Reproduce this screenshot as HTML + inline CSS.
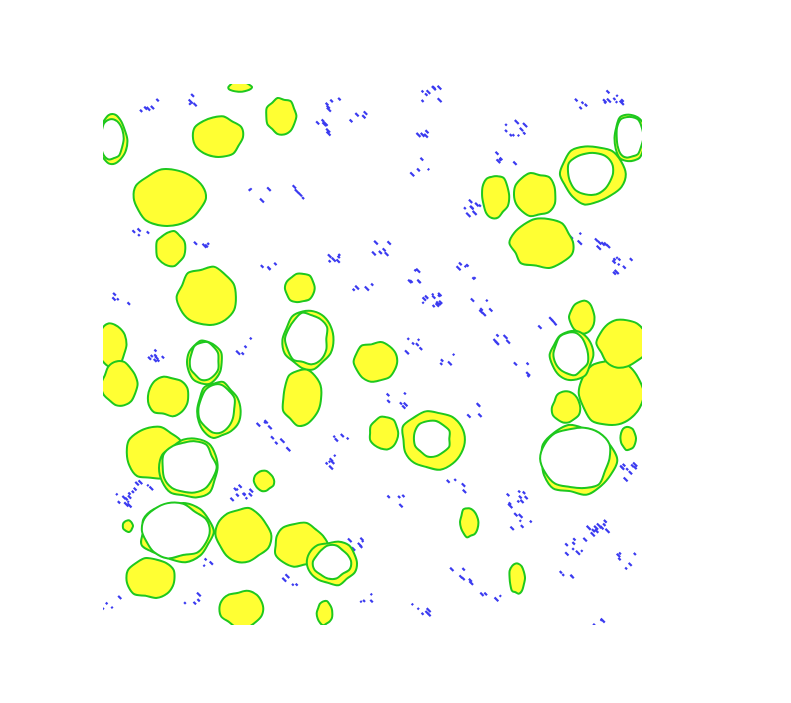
<!DOCTYPE html>
<html><head><meta charset="utf-8">
<style>html,body{margin:0;padding:0;background:#fff;width:791px;height:703px;overflow:hidden}</style>
</head><body>
<svg id="seg" width="791" height="703" viewBox="0 0 791 703" xmlns="http://www.w3.org/2000/svg">
<defs><clipPath id="clip"><rect x="103" y="84" width="539" height="541"/></clipPath></defs>
<g id="layer" clip-path="url(#clip)"></g>
</svg>
<script>
// Solid yellow regions: [cx, cy, rx, ry]
const solidBlobs = [
[218,137,25,22],[281,116,15,18],[170,198,37,28],[171,249,15,18],[207,297,30,30],
[300,288,15,15],[302,398,20,28],[376,362,22,20],[384,433,15,16],[495,196,14,22],
[535,195,22,22],[542,243,32,25],[112,345,14,22],[120,384,18,22],[168,396,22,20],
[155,453,28,28],[243,535,27,28],[300,545,27,22],[151,578,26,20],[242,609,23,18],
[264,481,10,10],[325,613,8,12],[469,522,9,15],[517,578,8,16],[582,317,13,17],
[612,393,32,35],[622,343,25,25],[566,408,14,16],[628,438,8,12],[128,526,5,6],[240,87,12,5]
];
// Ring regions: [cx, cy, rx, ry, innerScale]
const ringBlobs = [
[308,340,25,30,0.85],[592,174,33,30,0.72],[630,138,16,25,0.85],[205,362,18,22,0.85],
[218,410,22,28,0.85],[190,468,30,30,0.9],[177,532,38,30,0.9],[333,563,25,22,0.75],
[433,440,32,30,0.6],[578,460,38,35,0.92],[572,355,22,26,0.82],[112,140,15,25,0.8]
];
// Blue speckle cluster centres: [x, y, count]
const speckles = [
[150,103,5],[185,100,4],[325,125,7],[330,105,5],[355,113,4],[430,92,8],[515,128,9],[612,95,9],
[577,103,4],[470,205,8],[505,155,5],[258,195,4],[300,190,4],[620,265,9],[598,240,6],[570,235,4],
[380,245,6],[330,262,6],[430,300,12],[410,275,6],[465,270,6],[480,305,6],[415,345,6],[450,355,4],
[500,335,6],[545,320,4],[520,370,4],[153,355,8],[120,300,4],[140,235,4],[200,240,4],[240,345,4],
[325,458,6],[240,492,10],[125,497,10],[143,480,6],[515,497,9],[520,520,6],[455,487,4],[395,500,4],
[596,525,11],[575,545,8],[630,470,9],[625,560,6],[562,572,4],[355,540,6],[370,600,4],[420,610,6],
[460,575,6],[490,600,4],[190,600,4],[110,600,4],[280,440,4],[340,440,4],[470,410,4],[395,400,6],
[260,420,4],[288,580,4],[200,560,4],[362,290,4],[270,260,4],[420,165,4],[420,130,4],[600,620,4]
];
const layer = document.getElementById('layer');
const NS = 'http://www.w3.org/2000/svg';
let seed = 7;
function rnd(){ seed = (seed*16807)%2147483647; return seed/2147483647; }
function blobPath(cx,cy,rx,ry){
  const n=14; let pts=[];
  for(let i=0;i<n;i++){ const a=i/n*2*Math.PI; const k=0.9+0.15*rnd();
    pts.push([cx+Math.cos(a)*rx*k, cy+Math.sin(a)*ry*k]); }
  let d='';
  for(let i=0;i<n;i++){ const p0=pts[(i-1+n)%n],p1=pts[i],p2=pts[(i+1)%n],p3=pts[(i+2)%n];
    if(i===0) d+='M'+p1[0].toFixed(1)+','+p1[1].toFixed(1);
    const c1=[p1[0]+(p2[0]-p0[0])/6,p1[1]+(p2[1]-p0[1])/6], c2=[p2[0]-(p3[0]-p1[0])/6,p2[1]-(p3[1]-p1[1])/6];
    d+='C'+c1.map(v=>v.toFixed(1))+' '+c2.map(v=>v.toFixed(1))+' '+p2.map(v=>v.toFixed(1)); }
  return d+'Z';
}
speckles.forEach((s,i)=>{
  for(let j=0;j<s[2];j++){
    const ln=document.createElementNS(NS,'line');
    const x=s[0]+(rnd()-0.5)*20, y=s[1]+(rnd()-0.5)*16, L=2+rnd()*4;
    ln.setAttribute('x1',x); ln.setAttribute('y1',y);
    ln.setAttribute('x2',x+L*0.7); ln.setAttribute('y2',y+L*0.7);
    ln.setAttribute('stroke','#3b3bf0'); ln.setAttribute('stroke-width','2.2');
    
    
    layer.appendChild(ln);
  }
});
solidBlobs.forEach(b=>{
  const p=document.createElementNS(NS,'path');
  p.setAttribute('d',blobPath(b[0],b[1],b[2],b[3]));
  p.setAttribute('fill','#ffff33'); p.setAttribute('stroke','#1ec81e'); p.setAttribute('stroke-width','2');
  
  
  layer.appendChild(p);
});
ringBlobs.forEach(b=>{
  const p=document.createElementNS(NS,'path');
  p.setAttribute('d',blobPath(b[0],b[1],b[2],b[3]));
  p.setAttribute('fill','#ffff33'); p.setAttribute('stroke','#1ec81e'); p.setAttribute('stroke-width','2');
  
  
  layer.appendChild(p);
  const q=document.createElementNS(NS,'path');
  q.setAttribute('d',blobPath(b[0]-b[2]*0.04,b[1]-b[3]*0.04,b[2]*b[4],b[3]*b[4]));
  q.setAttribute('fill','#ffffff'); q.setAttribute('stroke','#1ec81e'); q.setAttribute('stroke-width','2');
  
  
  layer.appendChild(q);
});
</script>
</body></html>
